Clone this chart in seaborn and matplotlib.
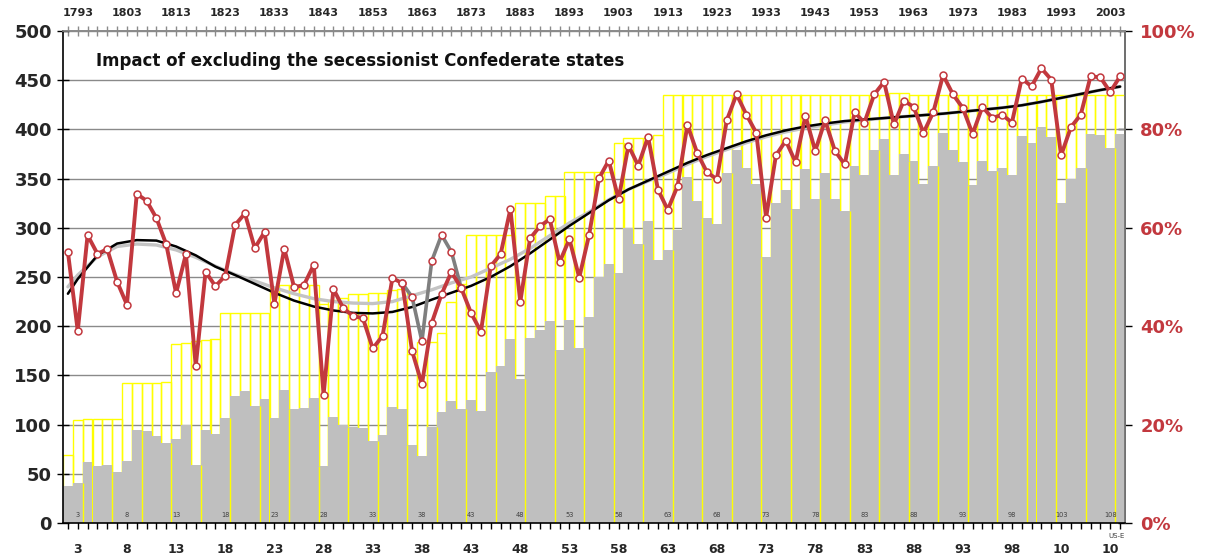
import numpy as np
import pandas as pd
import matplotlib
matplotlib.use("Agg")
import matplotlib.pyplot as plt
import seaborn as sns

# ---------------- data ----------------
congress = list(range(2, 110))

# full House size per Congress (used for the red share line)
house_seats = ([69, 105, 106, 106, 106, 106, 142, 142, 142, 142, 143,
                182, 183, 185, 186, 187, 213, 213, 213, 213, 213,
                240, 242, 242, 242, 242, 223, 227, 229, 233, 233,
                234, 234, 237, 238,
                226, 241, 241, 243, 243, 243,
                293, 293, 293, 293, 293, 325, 325, 325, 332, 332,
                357, 357, 357, 357, 357, 386, 391, 391, 391, 394]
               + [435] * 23 + [437, 437] + [435] * 22)

# seats when the secessionist Confederate states are excluded
excl_congress = [37, 38, 39, 40, 41]
excl_seats = [172, 184, 184, 193, 225]

# grey bars
members = [38, 41, 62, 58, 59, 52, 63, 95, 93, 88, 81, 85, 100, 59, 95, 90,
           107, 129, 134, 119, 126, 107, 135, 116, 117, 127, 58, 108, 100, 98,
           97, 83, 89, 118, 116, 79, 68, 98, 113, 124, 116, 125, 114, 153, 160,
           187, 146, 188, 196, 205, 176, 206, 178, 209, 250, 263, 254, 300, 284,
           307, 267, 277, 298, 352, 327, 310, 304, 356, 379, 361, 345, 270, 325,
           338, 319, 360, 329, 356, 329, 317, 363, 354, 379, 390, 354, 375, 368,
           345, 363, 396, 379, 367, 344, 368, 358, 361, 354, 393, 386, 402, 392,
           325, 350, 361, 395, 394, 381, 395]

# trend lines (left-axis units)
trend_congress = [2, 3, 5, 7, 9, 11, 13, 15, 17, 19, 21, 23, 25, 27, 29, 31, 33,
                  35, 37, 39, 41, 43, 45, 47, 49, 51, 53, 55, 57, 59, 61, 63, 65,
                  67, 69, 71, 73, 75, 77, 79, 81, 83, 85, 87, 89, 91, 93, 95, 97,
                  99, 101, 103, 105, 107, 109]
trend_all = [233, 248, 272, 284, 287.5, 287, 281, 272, 260.5, 252, 243, 234,
             226, 220, 216, 213.5, 213, 214.5, 219.5, 227, 234, 241, 250, 261,
             274, 288, 302, 315, 328, 339, 348, 357, 366, 374, 381, 388, 394,
             399, 403, 406, 408.5, 410, 411.5, 413, 414.5, 416, 418, 420, 422,
             424.5, 428, 432, 436, 440, 443.5]
trend_excl = [240, 252, 270.5, 281, 283.5, 282.5, 277.5, 270, 261, 252.5, 246,
              239, 233, 228, 225, 223.5, 223, 225, 231, 237, 244, 250, 259, 268,
              279, 292, 305, 316, 328.5, 339, 347.5, 355.5, 364.5, 372.5, 379.5,
              386.5, 392.5, 397.5, 401.5, 404.5, 407.5, 409.5, 411.5, 413, 414.5,
              416, 418, 420, 422, 424.5, 428, 432, 436, 440, 443.5]

label_congress = list(range(3, 109, 5))
bottom_labels = [str(c)[:2] for c in label_congress]
top_years = [str(1789 + 2 * (c - 1)) for c in label_congress]

# ---------------- derived tables ----------------
df = pd.DataFrame({"congress": congress, "house": house_seats, "members": members})
df["shown"] = df["house"]
for c, s in zip(excl_congress, excl_seats):
    df.loc[df["congress"] == c, "shown"] = s
df["share"] = df["members"] / df["house"] * 500  # 100% == 500
dex = df[(df["congress"] >= 36) & (df["congress"] <= 42)].copy()
dex["share_excl"] = dex["members"] / dex["shown"] * 500
tr = pd.DataFrame({"congress": trend_congress, "all": trend_all, "excl": trend_excl})

# ---------------- styling ----------------
RED = "#C2383E"
YEL = "#FFFF00"
sns.set_theme(style="white")
plt.rcParams["font.family"] = ["DejaVu Sans"]

fig = plt.figure(figsize=(12.08, 5.54), dpi=100)
ax = fig.add_axes([63 / 1208, 1 - 523 / 554, (1125 - 63) / 1208, (523 - 31) / 554])

ax.set_axisbelow(True)
ax.yaxis.grid(True, color="#8A8A8A", linewidth=1.0)
ax.xaxis.grid(False)

sns.barplot(data=df, x="congress", y="shown", native_scale=True, width=1,
            fill=False, color=YEL, linewidth=1.0,
            errorbar=None, ax=ax, zorder=1)
sns.barplot(data=df, x="congress", y="members", native_scale=True, width=1,
            color="#BFBFBF", linewidth=0, saturation=1, errorbar=None, ax=ax,
            zorder=1.5)
# every third bar boundary shows through the grey fill, as in the original
shown = df["shown"].to_numpy()
mem = df["members"].to_numpy()
for i in range(1, len(congress), 3):
    b = congress[i] + 0.5
    if i + 1 < len(congress):
        ax.vlines(b, 0, min(mem[i], mem[i + 1]), color=YEL, linewidth=1.0,
                  zorder=1.6)

sns.lineplot(data=tr, x="congress", y="excl", color="#C4C4C4", linewidth=2.4,
             ax=ax, zorder=3)
sns.lineplot(data=tr, x="congress", y="all", color="black", linewidth=1.8,
             ax=ax, zorder=3.5)
sns.lineplot(data=dex, x="congress", y="share_excl", color="#7F7F7F",
             linewidth=2.6, marker="o", markersize=5, markerfacecolor="white",
             markeredgecolor=RED, markeredgewidth=1.1, ax=ax, zorder=4)
sns.lineplot(data=df, x="congress", y="share", color=RED, linewidth=2.8,
             marker="o", markersize=5, markerfacecolor="white",
             markeredgecolor=RED, markeredgewidth=1.1, ax=ax, zorder=5)

ax.set_xlim(1.5, 109.5)
ax.set_ylim(0, 500)
ax.set_xlabel("")
ax.set_ylabel("")

# bottom axis
ax.set_xticks(label_congress)
ax.set_xticklabels(bottom_labels, fontsize=9, fontweight="bold")
ax.set_xticks(congress, minor=True)
ax.tick_params(axis="x", which="both", direction="inout", length=9, width=1,
               color="black", pad=10, bottom=True)
# left axis
ax.set_yticks(range(0, 501, 50))
ax.set_yticklabels([str(v) for v in range(0, 501, 50)], fontsize=13,
                   fontweight="bold")
ax.tick_params(axis="y", which="major", direction="inout", length=8, width=1,
               color="black", pad=4, left=True)

for side in ["left", "bottom"]:
    ax.spines[side].set_color("black")
    ax.spines[side].set_linewidth(1.2)
ax.spines["top"].set_color("#8A8A8A")
ax.spines["top"].set_linewidth(1.2)
ax.spines["right"].set_color("#6E6E6E")
ax.spines["right"].set_linewidth(1.2)

# top axis with years
top = ax.secondary_xaxis("top")
top.set_xticks(label_congress)
top.set_xticklabels(top_years, fontsize=8, fontweight="bold")
top.set_xticks(congress, minor=True)
top.tick_params(axis="x", which="both", direction="inout", length=7, width=1,
                color="#8A8A8A", pad=6)
top.spines["top"].set_color("#8A8A8A")

# right axis in percent
right = ax.secondary_yaxis("right", functions=(lambda v: v / 5, lambda p: p * 5))
right.set_yticks(range(0, 101, 20))
right.set_yticklabels([f"{p}%" for p in range(0, 101, 20)], fontsize=13,
                      fontweight="bold", color=RED)
right.set_yticks(range(0, 101, 10), minor=True)
right.tick_params(axis="y", which="major", direction="inout", length=10,
                  width=1, color="black", pad=6)
right.tick_params(axis="y", which="minor", direction="in", length=4, width=0.8,
                  color="#6E6E6E")
right.spines["right"].set_color("#6E6E6E")

# small congress numbers inside bars
for c in label_congress:
    ax.text(c, 8, str(c), fontsize=4.8, ha="center", va="center",
            color="#404040", zorder=6)

ax.text(0.031, 0.94, "Impact of excluding the secessionist Confederate states",
        transform=ax.transAxes, fontsize=12, fontweight="bold", ha="left",
        va="center", color="#111111", zorder=7)
ax.text(1.0, -0.02, "US-E", transform=ax.transAxes, fontsize=5, ha="right",
        va="top", color="#404040")

fig.savefig("out.png", dpi=100, facecolor="white")
